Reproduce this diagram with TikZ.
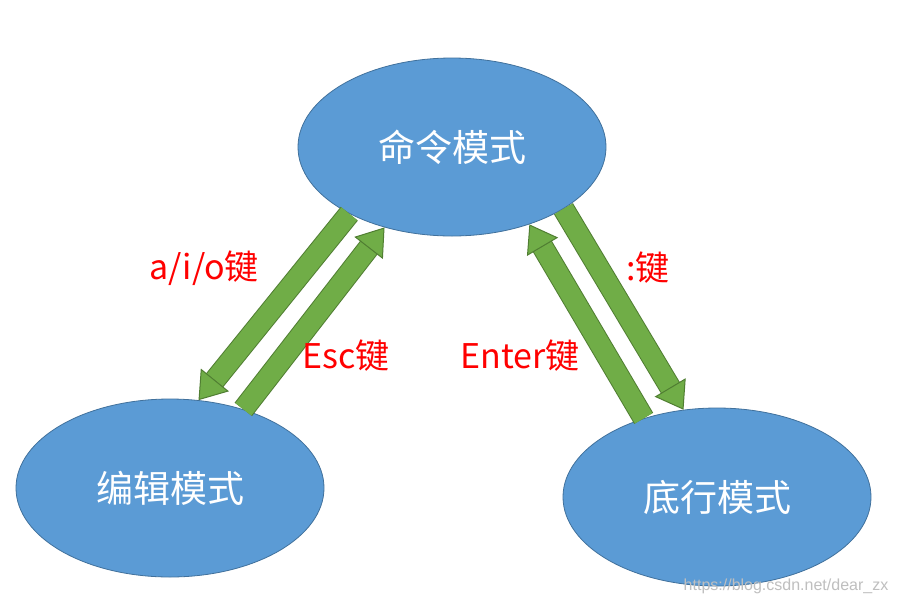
\documentclass[tikz,border=0pt]{standalone}
\usepackage{fontspec}
\setmainfont{Liberation Sans}
\newfontfamily\cjk{Noto Sans CJK SC}
\usetikzlibrary{arrows.meta,shapes.geometric}

\definecolor{modeblue}{HTML}{5B9BD5}
\definecolor{modeline}{HTML}{41719C}
\definecolor{keygreen}{HTML}{70AD47}
\definecolor{keyline}{HTML}{507E32}

\tikzset{
  mode/.style={ellipse, fill=modeblue, draw=modeline, line width=0.8pt,
    minimum width=308pt, minimum height=178pt, inner sep=0pt,
    text=white, font=\cjk\fontsize{37}{40}\selectfont},
  keyarrow/.style={line width=20pt, keygreen,
    -{Triangle[width=36pt,length=26pt,line width=1pt,color=keyline,fill=keygreen]},
    preaction={draw=keyline, line width=22pt, shorten >=25pt, -}},
  keylabel/.style={text=red, font=\cjk\fontsize{34}{38}\selectfont}
}

\begin{document}
\begin{tikzpicture}[x=1pt,y=-1pt]
\useasboundingbox[fill=white] (0,0) rectangle (897,606);

% the three modes
\node[mode] (cmd) at (452,147) {命令模式};
\node[mode] (edit) at (170,488) {编辑模式};
\node[mode] (last) at (717,497) {底行模式};

% switching keys
\draw[keyarrow] (cmd.213) -- (edit.72);
\draw[keyarrow] (edit.47) -- (cmd.230);
\draw[keyarrow] (last.133) -- (cmd.315);
\draw[keyarrow] (cmd.331) -- (last.111);

\node[keylabel] (aio) at (204,268) {a/i/o键};
\node[keylabel] (esc) at (346,356) {Esc键};
\node[keylabel] (enter) at (520,356) {Enter键};
\node[keylabel] (colon) at (648,268) {:键};

\node[text=gray!50, font=\fontsize{16}{18}\selectfont] (mark) at (786,586) {https://blog.csdn.net/dear\_zx};

\end{tikzpicture}
\end{document}
